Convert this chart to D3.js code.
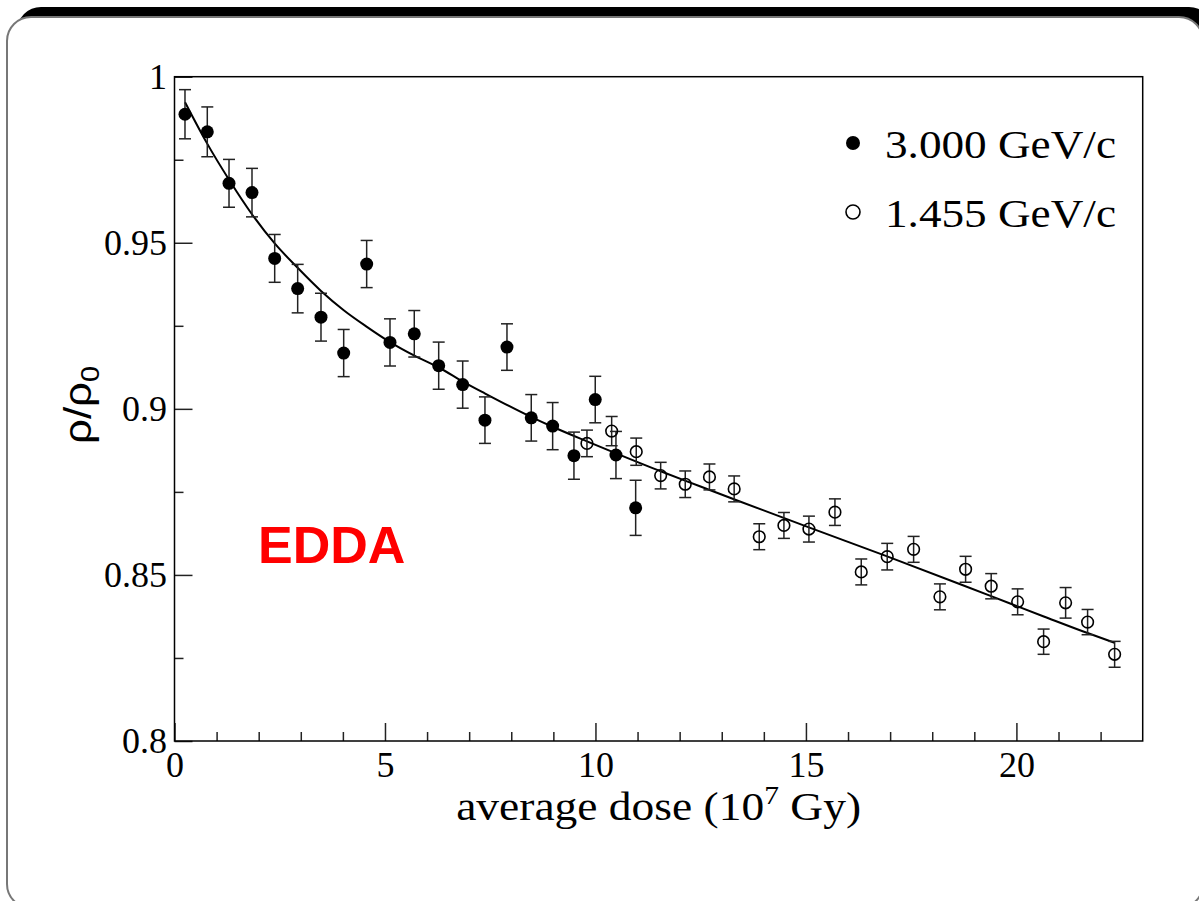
<!DOCTYPE html>
<html>
<head>
<meta charset="utf-8">
<script src="https://cdn.jsdelivr.net/npm/d3@7"></script>
<style>
  html, body { margin: 0; padding: 0; background: #fff; }
  svg { display: block; }
</style>
</head>
<body>
<svg id="chart" width="1199" height="901"></svg>
<script>
// 3.000 GeV/c beam (filled markers)
const highDose = [0.249, 0.779, 1.295, 1.841, 2.380, 2.926, 3.480, 4.019, 4.565, 5.119, 5.696,
                  6.276, 6.846, 7.375, 7.898, 8.475, 8.983, 9.489, 9.995, 10.487, 10.955];
const highRatio = [0.9887, 0.9834, 0.9679, 0.9651, 0.9453, 0.9362, 0.9276, 0.9168, 0.9436, 0.9200, 0.9226,
                   0.9130, 0.9073, 0.8966, 0.9186, 0.8973, 0.8948, 0.8859, 0.9028, 0.8861, 0.8702];
const highErr = [0.0074, 0.0075, 0.0072, 0.0073, 0.0072, 0.0073, 0.0072, 0.0071, 0.0071, 0.0071, 0.0070,
                 0.0071, 0.0071, 0.0070, 0.0070, 0.0070, 0.0071, 0.0071, 0.0070, 0.0071, 0.0083];

// 1.455 GeV/c beam (open markers)
const lowDose = [9.798, 10.385, 10.969, 11.549, 12.133, 12.708, 13.295, 13.891, 14.477, 15.071, 15.689,
                 16.314, 16.931, 17.558, 18.183, 18.793, 19.401, 20.029, 20.646, 21.169, 21.691, 22.333];
const lowRatio = [0.8896, 0.8933, 0.8871, 0.8799, 0.8773, 0.8795, 0.8759, 0.8615, 0.8649, 0.8638, 0.8689,
                  0.8509, 0.8555, 0.8577, 0.8434, 0.8517, 0.8466, 0.8419, 0.8299, 0.8416, 0.8358, 0.8261];
const lowErr = [0.0040, 0.0044, 0.0041, 0.0040, 0.0040, 0.0039, 0.0039, 0.0039, 0.0039, 0.0039, 0.0040,
                0.0039, 0.0040, 0.0039, 0.0039, 0.0039, 0.0038, 0.0039, 0.0038, 0.0046, 0.0038, 0.0039];

// fitted curve, sampled along its length
const fitDose = [0.25, 0.77, 1.30, 1.84, 2.38, 2.93, 3.48, 4.02, 4.57, 5.12, 5.70, 6.30, 6.85, 7.38,
                 8.48, 8.98, 9.80, 10.49, 11.55, 12.48, 13.29, 15.07, 16.93, 19.40, 20.65, 21.69, 22.33];
const fitRatio = [0.9923, 0.9800, 0.9689, 0.9586, 0.9498, 0.9424, 0.9355, 0.9297, 0.9247, 0.9201, 0.9160,
                  0.9123, 0.9082, 0.9046, 0.8975, 0.8946, 0.8902, 0.8866, 0.8812, 0.8767, 0.8728, 0.8643,
                  0.8556, 0.8436, 0.8375, 0.8325, 0.8296];

// axes
const xMajorTicks = [0, 5, 10, 15, 20];
const xMinorTicks = [1, 2, 3, 4, 6, 7, 8, 9, 11, 12, 13, 14, 16, 17, 18, 19, 21, 22];
const yMajorTicks = [0.8, 0.85, 0.9, 0.95, 1.0];
const yTickLabels = ["0.8", "0.85", "0.9", "0.95", "1"];
const yMinorTicks = [0.825, 0.875, 0.925, 0.975];

const seriesNames = ["3.000 GeV/c", "1.455 GeV/c"];
const xTitle = "average dose (10";
const xTitleSup = "7";
const xTitleTail = " Gy)";
const panelLabel = "EDDA";

const svg = d3.select("#chart");
const W = 1199, H = 901;

// slide-style backdrop: dark offset shadow + white rounded card
svg.append("rect").attr("x", 0).attr("y", 0).attr("width", W).attr("height", H).attr("fill", "#fff");
svg.append("rect").attr("x", 17).attr("y", 7).attr("width", 1196).attr("height", 891)
  .attr("rx", 24).attr("fill", "#000");
svg.append("rect").attr("x", 7).attr("y", 17).attr("width", 1196).attr("height", 891)
  .attr("rx", 24).attr("fill", "#fff").attr("stroke", "#777").attr("stroke-width", 2);

const plot = { left: 174.5, top: 76.7, right: 1142.7, bottom: 741 };

const x = d3.scaleLinear().domain([0, 23]).range([plot.left, plot.right]);
const y = d3.scaleLinear().domain([0.8, 1.0]).range([plot.bottom, plot.top]);

const serif = "'Liberation Serif', 'Times New Roman', serif";

// x axis (ticks point into the plot)
const gx = svg.append("g").attr("transform", `translate(0,${plot.bottom})`);
gx.call(d3.axisBottom(x).tickValues(xMajorTicks).tickSize(-18).tickPadding(10.5)
  .tickFormat(d3.format("d")));
const gxm = svg.append("g").attr("transform", `translate(0,${plot.bottom})`);
gxm.call(d3.axisBottom(x).tickValues(xMinorTicks).tickSize(-9).tickFormat(""));

// y axis
const gy = svg.append("g").attr("transform", `translate(${plot.left},0)`);
gy.call(d3.axisLeft(y).tickValues(yMajorTicks).tickSize(-18).tickPadding(7.5)
  .tickFormat((d, i) => yTickLabels[i]));
const gym = svg.append("g").attr("transform", `translate(${plot.left},0)`);
gym.call(d3.axisLeft(y).tickValues(yMinorTicks).tickSize(-9).tickFormat(""));

[gx, gxm, gy, gym].forEach(g => {
  g.select(".domain").remove();
  g.selectAll(".tick line").attr("stroke", "#222").attr("stroke-width", 1.5);
  g.selectAll(".tick text").attr("font-family", serif).attr("font-size", 36).attr("fill", "#000");
});

// plot frame
svg.append("rect")
  .attr("x", plot.left).attr("y", plot.top)
  .attr("width", plot.right - plot.left).attr("height", plot.bottom - plot.top)
  .attr("fill", "none").attr("stroke", "#000").attr("stroke-width", 1.5);

// fit curve
const fitPts = fitDose.map((d, i) => [d, fitRatio[i]]);
svg.append("path")
  .datum(fitPts)
  .attr("d", d3.line().x(d => x(d[0])).y(d => y(d[1])).curve(d3.curveMonotoneX))
  .attr("fill", "none").attr("stroke", "#000").attr("stroke-width", 2);

function drawSeries(dose, ratio, err, filled) {
  const pts = dose.map((d, i) => ({ x: d, y: ratio[i], e: err[i] }));
  const g = svg.append("g");
  const cap = 6;
  const eb = g.selectAll("g.eb").data(pts).enter().append("g")
    .attr("stroke", "#222").attr("stroke-width", 1.5);
  eb.append("line")
    .attr("x1", d => x(d.x)).attr("x2", d => x(d.x))
    .attr("y1", d => y(d.y + d.e)).attr("y2", d => y(d.y - d.e));
  eb.append("line")
    .attr("x1", d => x(d.x) - cap).attr("x2", d => x(d.x) + cap)
    .attr("y1", d => y(d.y + d.e)).attr("y2", d => y(d.y + d.e));
  eb.append("line")
    .attr("x1", d => x(d.x) - cap).attr("x2", d => x(d.x) + cap)
    .attr("y1", d => y(d.y - d.e)).attr("y2", d => y(d.y - d.e));
  g.selectAll("circle").data(pts).enter().append("circle")
    .attr("cx", d => x(d.x)).attr("cy", d => y(d.y))
    .attr("r", filled ? 6.5 : 5.8)
    .attr("fill", filled ? "#000" : "none")
    .attr("stroke", "#000").attr("stroke-width", filled ? 0 : 1.6);
}
drawSeries(highDose, highRatio, highErr, true);
drawSeries(lowDose, lowRatio, lowErr, false);

// stretch a text element horizontally to a target width, keeping its anchor
function fitWidth(sel, target, anchorX, anchorY, anchor) {
  const w = sel.node().getBBox().width;
  const s = target / w;
  sel.attr("x", 0).attr("y", 0)
    .attr("transform", `translate(${anchorX},${anchorY}) scale(${s},1)`)
    .attr("text-anchor", anchor);
}

// legend
const legendRows = [{ cy: 143, base: 158, filled: true }, { cy: 212, base: 227, filled: false }];
legendRows.forEach((r, i) => {
  svg.append("circle").attr("cx", 853).attr("cy", r.cy).attr("r", 7)
    .attr("fill", r.filled ? "#000" : "none").attr("stroke", "#000")
    .attr("stroke-width", r.filled ? 0 : 1.6);
  const t = svg.append("text").text(seriesNames[i])
    .attr("font-family", serif).attr("font-size", 40).attr("fill", "#000");
  fitWidth(t, 231, 885, r.base, "start");
});

// x axis title with superscript exponent
const xt = svg.append("text").attr("font-family", serif).attr("font-size", 40).attr("fill", "#000");
xt.append("tspan").text(xTitle);
xt.append("tspan").text(xTitleSup).attr("font-size", 26).attr("dy", -16);
xt.append("tspan").text(xTitleTail).attr("dy", 16);
fitWidth(xt, 405, (plot.left + plot.right) / 2, 820, "middle");

// y axis title ρ/ρ₀, rotated
const yt = svg.append("text").attr("font-family", "'Liberation Sans', Arial, sans-serif")
  .attr("font-size", 38).attr("fill", "#000");
yt.append("tspan").text("ρ/ρ");
yt.append("tspan").text("0").attr("font-size", 25).attr("dy", 8);
{
  const w = yt.node().getBBox().width;
  const s = 78 / w;
  yt.attr("text-anchor", "middle")
    .attr("transform", `translate(91,405) rotate(-90) scale(${s},1)`);
}

// panel label
svg.append("text").text(panelLabel)
  .attr("x", 258).attr("y", 563)
  .attr("font-family", "'Liberation Sans', Arial, sans-serif")
  .attr("font-weight", "bold").attr("font-size", 52)
  .attr("fill", "#f00");
</script>
</body>
</html>
